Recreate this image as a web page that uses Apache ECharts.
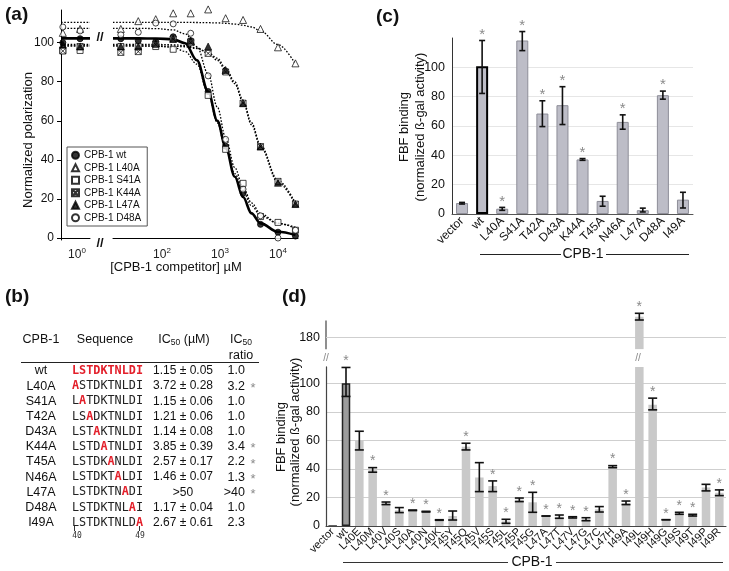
<!DOCTYPE html>
<html><head><meta charset="utf-8">
<script src="https://cdn.jsdelivr.net/npm/echarts@6/dist/echarts.min.js"></script>
<style>html,body{margin:0;padding:0;background:#fff}#c{width:729px;height:571px}</style>
</head><body><div id="c"></div>
<script>
// ---------------- Panel (a) data ----------------
const concA = [19.5, 39, 78, 156, 312.5, 625, 1250, 2500, 5000, 10000, 20000];
const concCtrl = [0.57, 1.13];
const namesA = ['CPB-1 wt', 'CPB-1 L40A', 'CPB-1 S41A', 'CPB-1 K44A', 'CPB-1 L47A', 'CPB-1 D48A'];
const ptsWt   = [102, 101, 100.5, 103, 101, 75, 47, 23, 7, 3, 1];
const ptsL40A = [107, 111, 112, 115, 115, 117, 112.5, 111.6, 107, 97.6, 89.4];
const ptsS41A = [98, 98, 98, 96.6, 100.5, 73, 45.4, 28, 11, 8, 4];
const ptsK44A = [95, 95.4, 99, 101.7, 100, 94.5, 85, 69, 46.8, 29, 17.4];
const ptsL47A = [98, 98, 99.7, 102, 101, 98, 86, 69, 46.8, 28.3, 17.4];
const ptsD48A = [104, 105.3, 110, 109.6, 104.8, 83, 50.5, 25, 11.4, 0, 4];
const ctrlWt = [100, 102], ctrlL40A = [105, 107], ctrlS41A = [96, 96];
const ctrlK44A = [95.7, 98], ctrlL47A = [99, 98], ctrlD48A = [108, 106];
const fitConc = [14.3, 39, 78, 156, 250, 400, 625, 900, 1250, 1800, 2500, 3500, 5000, 10000, 20000];
const fitWt   = [102.2, 102.2, 102.1, 101.7, 99.7, 91, 75, 60, 46.8, 31.4, 21, 12.6, 7.5, 3.2, 1.5];
const fitL40A = [110.4, 110.4, 110.4, 110.4, 110.4, 110.3, 110.2, 110.1, 109.9, 109.5, 108.9, 108, 106, 99, 89];
const fitS41A = [98.3, 98.3, 98.2, 97.6, 95.5, 89, 74, 59, 45.5, 33, 24, 16.5, 11.5, 7.5, 5];
const fitK44A = [99.1, 99.1, 99.1, 98.9, 98.5, 97.3, 94.6, 91, 86, 79, 69.5, 58, 46.5, 28.5, 17];
const fitL47A = [98.3, 98.3, 98.3, 98.2, 97.9, 97, 95, 92, 87, 80, 70.5, 59, 47.5, 29.5, 17.8];
const fitD48A = [107.3, 107.3, 107.2, 106.5, 104.5, 98, 84, 67, 51.5, 36, 26, 18, 12.5, 7.5, 5.5];
const yTicksA = [0, 20, 40, 60, 80, 100];

// ---------------- Panel (b) table data ----------------
const tblNames = ['wt', 'L40A', 'S41A', 'T42A', 'D43A', 'K44A', 'T45A', 'N46A', 'L47A', 'D48A', 'I49A'];
const tblSeq = ['LSTDKTNLDI', 'ASTDKTNLDI', 'LATDKTNLDI', 'LSADKTNLDI', 'LSTAKTNLDI', 'LSTDATNLDI',
                'LSTDKANLDI', 'LSTDKTALDI', 'LSTDKTNADI', 'LSTDKTNLAI', 'LSTDKTNLDA'];
const tblMut = [-1, 0, 1, 2, 3, 4, 5, 6, 7, 8, 9];
const tblIC50 = ['1.15 \u00b1 0.05', '3.72 \u00b1 0.28', '1.15 \u00b1 0.06', '1.21 \u00b1 0.06', '1.14 \u00b1 0.08',
                 '3.85 \u00b1 0.39', '2.57 \u00b1 0.17', '1.46 \u00b1 0.07', '>50', '1.17 \u00b1 0.04', '2.67 \u00b1 0.61'];
const tblRatio = ['1.0', '3.2', '1.0', '1.0', '1.0', '3.4', '2.2', '1.3', '>40', '1.0', '2.3'];
const tblStar = [0, 1, 0, 0, 0, 1, 1, 1, 1, 0, 0];

// ---------------- Panel (c) data ----------------
const catsC = ['vector', 'wt', 'L40A', 'S41A', 'T42A', 'D43A', 'K44A', 'T45A', 'N46A', 'L47A', 'D48A', 'I49A'];
const valC  = [7.5, 100.8, 3.6, 118.3, 68.5, 74.2, 37.2, 8.9, 62.8, 2.6, 81, 9.8];
const loC   = [6.8, 82.2, 2.5, 111.4, 59.6, 61, 36.6, 5.3, 57.8, 1.4, 78.3, 4.1];
const hiC   = [7.9, 118.3, 4.5, 124.4, 77.2, 86.8, 37.8, 12.1, 67.6, 4, 83.8, 14.8];
const starC = [0, 1, 1, 1, 1, 1, 1, 0, 1, 0, 1, 0];
const yTicksC = [0, 20, 40, 60, 80, 100];

// ---------------- Panel (d) data ----------------
const catsD = ['vector', 'wt', 'L40E', 'L40M', 'L40V', 'L40S', 'L40A', 'L40N', 'L40K', 'T45Y', 'T45Q', 'T45V',
               'T45S', 'T45L', 'T45P', 'T45G', 'L47A', 'L47T', 'L47V', 'L47G', 'L47C', 'L47H', 'I49A', 'I49L',
               'I49H', 'I49G', 'I49S', 'I49T', 'I49P', 'I49R'];
const valD = [0.5, 100, 60, 39.3, 16, 11, 11, 10, 4.2, 7, 55.6, 34, 28, 3.3, 18.5, 16.6, 7, 6.5, 6, 4.8, 11.7,
              41.5, 16, 194.7, 85, 4.4, 8.9, 7.6, 27, 23.3];
const loD  = [null, 90.8, 53.3, 37.7, 15, 9.4, 10.8, 9.8, 4, 4.2, 53.3, 24.1, 24.1, 1.9, 17.1, 9.6, 7, 5.4, 5.6,
              3.7, 9.8, 40.9, 15, 192.4, 81.4, 4.4, 8.2, 7, 24.6, 21.3];
const hiD  = [null, 111.1, 66.4, 40.9, 16.8, 12.9, 11.2, 10.3, 4.4, 10.5, 58, 44.4, 31.6, 4.7, 19.6, 23.6, 7, 7.7,
              6.5, 5.8, 13.6, 42.3, 17.5, 197.1, 89.6, 4.4, 9.6, 8.2, 29.2, 25.3];
const starD = [0, 1, 0, 1, 1, 0, 1, 1, 1, 0, 1, 0, 1, 1, 1, 1, 1, 1, 1, 1, 0, 1, 1, 1, 1, 1, 1, 1, 0, 1];
const yTicksD = [0, 20, 40, 60, 80, 100];
const yTicksDUpper = [180];

// ---------------- helpers ----------------
const FONT = '"Liberation Sans", Arial, sans-serif';
const MONO = '"DejaVu Sans Mono", monospace';
const RED = '#e3202b';
const LOWER_MAX = 111.5;
const PX_D = 1.427;            // px per unit in panel (d)
const UP_MIN = 172, UP_MAX = 200, UP_180_Y = 337.7;

function pow10Label(v) {
  const l = Math.log10(v), r = Math.round(l);
  if (Math.abs(l - r) > 1e-6) return '';
  return '{b|10}{s|' + r + '}';
}
const pair = (xs, ys) => xs.map((x, i) => [x, ys[i]]);

const symStyles = [
  {symbol: 'circle', size: 6, itemStyle: {color: '#000', borderColor: '#000', borderWidth: 1}},
  {symbol: 'triangle', size: 7, itemStyle: {color: '#fff', borderColor: '#000', borderWidth: 0.9}},
  {symbol: 'rect', size: 6, itemStyle: {color: '#fff', borderColor: '#000', borderWidth: 0.9}},
  {symbol: 'path://M0,0H10V10H0ZM0,0L10,10M10,0L0,10', size: 6, itemStyle: {color: '#fff', borderColor: '#000', borderWidth: 0.9}},
  {symbol: 'triangle', size: 7, itemStyle: {color: '#000', borderColor: '#000', borderWidth: 0.8}},
  {symbol: 'circle', size: 6, itemStyle: {color: '#fff', borderColor: '#000', borderWidth: 0.9}}
];
const ptsAll = [ptsWt, ptsL40A, ptsS41A, ptsK44A, ptsL47A, ptsD48A];
const ctrlAll = [ctrlWt, ctrlL40A, ctrlS41A, ctrlK44A, ctrlL47A, ctrlD48A];
const fitAll = [fitWt, fitL40A, fitS41A, fitK44A, fitL47A, fitD48A];

const series = [];
fitAll.forEach((f, k) => {
  const ls = k === 0 ? {color: '#000', width: 2.6, type: 'solid'} : {color: '#000', width: 1.3, type: [1.6, 1.6]};
  series.push({type: 'line', name: 'fit' + k, xAxisIndex: 1, yAxisIndex: 1, data: pair(fitConc, f),
    showSymbol: false, smooth: 0.35, smoothMonotone: 'x', lineStyle: ls, z: 2, silent: true, clip: false});
  series.push({type: 'line', name: 'fitc' + k, xAxisIndex: 0, yAxisIndex: 0, data: [[0.53, f[0]], [1.675, f[0]]],
    showSymbol: false, lineStyle: ls, z: 2, silent: true});
});
namesA.forEach((n, k) => {
  const s = symStyles[k];
  series.push({type: 'scatter', name: n, xAxisIndex: 1, yAxisIndex: 1, data: pair(concA, ptsAll[k]),
    symbol: s.symbol, symbolSize: s.size, itemStyle: s.itemStyle, z: 4, clip: false});
  series.push({type: 'scatter', name: n, xAxisIndex: 0, yAxisIndex: 0, data: pair(concCtrl, ctrlAll[k]),
    symbol: s.symbol, symbolSize: s.size, itemStyle: s.itemStyle, z: 4, clip: false});
});

function makeErr(xi, yi, lo, hi, star, keep, cap, starSize) {
  const data = [];
  lo.forEach((v, i) => { if (v != null && keep(i)) data.push([i, lo[i], hi[i], star[i]]); });
  return {
    type: 'custom', xAxisIndex: xi, yAxisIndex: yi, data: data, z: 6, silent: true,
    renderItem: function (p, api) {
      const i = api.value(0);
      const a = api.coord([i, api.value(1)]), b = api.coord([i, api.value(2)]);
      const x = a[0];
      const st = {stroke: '#111', lineWidth: 1.6};
      const ch = [
        {type: 'line', shape: {x1: x, y1: a[1], x2: x, y2: b[1]}, style: st},
        {type: 'line', shape: {x1: x - cap, y1: a[1], x2: x + cap, y2: a[1]}, style: st},
        {type: 'line', shape: {x1: x - cap, y1: b[1], x2: x + cap, y2: b[1]}, style: st}
      ];
      if (api.value(3)) ch.push({type: 'text', style: {text: '*', x: x, y: b[1] - 6, align: 'center',
        verticalAlign: 'middle', fill: '#8a8a8a', font: starSize + 'px ' + FONT}});
      return {type: 'group', children: ch};
    }
  };
}

series.push({type: 'bar', xAxisIndex: 2, yAxisIndex: 2, barWidth: 12, z: 3,
  data: valC.map((v, i) => catsC[i] === 'wt'
    ? {value: v, itemStyle: {color: '#bdbdc7', borderColor: '#000', borderWidth: 2}}
    : v),
  itemStyle: {color: '#bdbdc7', borderColor: '#8e8e98', borderWidth: 1}});
series.push(makeErr(2, 2, loC, hiC, starC, () => true, 3, 15));

const barItemD = (v, i) => catsD[i] === 'wt'
  ? {value: v, itemStyle: {color: '#9c9c9c', borderColor: '#222', borderWidth: 1.5}}
  : catsD[i] === 'vector' ? {value: v, itemStyle: {color: '#222'}} : v;
series.push({type: 'bar', xAxisIndex: 4, yAxisIndex: 4, barWidth: 8.5, z: 3, clip: true,
  data: valD.map(barItemD), itemStyle: {color: '#c9c9c9'}});
series.push({type: 'bar', xAxisIndex: 3, yAxisIndex: 3, barWidth: 8.5, z: 3, clip: true,
  data: valD.map((v, i) => v > LOWER_MAX ? barItemD(v, i) : '-'), itemStyle: {color: '#c9c9c9'}});
series.push(makeErr(4, 4, loD, hiD, starD, i => hiD[i] <= LOWER_MAX, 4.5, 14));
series.push(makeErr(3, 3, loD, hiD, starD, i => hiD[i] > LOWER_MAX, 4.5, 14));

// ---------------- graphics ----------------
const g = [];
const txt = (text, x, y, opt) => g.push(Object.assign({type: 'text', x: x, y: y, silent: true,
  style: Object.assign({text: text, font: '12px ' + FONT, fill: '#111', align: 'center', verticalAlign: 'middle'}, (opt && opt.style) || {})},
  (opt && opt.rotation != null) ? {rotation: opt.rotation} : {}));
const line = (x1, y1, x2, y2, color, w) => g.push({type: 'line', silent: true,
  shape: {x1: x1, y1: y1, x2: x2, y2: y2}, style: {stroke: color || '#111', lineWidth: w || 1}});

txt('(a)', 5, 15, {style: {font: 'bold 19px ' + FONT, align: 'left'}});
txt('(c)', 376, 17, {style: {font: 'bold 19px ' + FONT, align: 'left'}});
txt('(b)', 5, 297, {style: {font: 'bold 19px ' + FONT, align: 'left'}});
txt('(d)', 282, 297, {style: {font: 'bold 19px ' + FONT, align: 'left'}});

txt('Normalized polarization', 28, 140, {rotation: Math.PI / 2, style: {font: '13px ' + FONT}});
txt('[CPB-1 competitor] \u00b5M', 176, 267, {style: {font: '13px ' + FONT}});
txt('//', 100, 37, {style: {font: 'bold 13px ' + FONT}});
txt('//', 100, 243, {style: {font: 'bold 13px ' + FONT}});

// (b) table
const colName = 41, colSeq = 72, colIC = 183, colRatio = 245, rowY0 = 371, rowH = 15.16;
const subRich = {a: {fontSize: 12.5, fontFamily: FONT, fill: '#111'}, s: {fontSize: 8.5, fontFamily: FONT, fill: '#111', padding: [5, 0, 0, 0]}};
txt('CPB-1', colName, 340, {style: {font: '12.5px ' + FONT}});
txt('Sequence', 105, 340, {style: {font: '12.5px ' + FONT}});
txt('{a|IC}{s|50}{a| (\u00b5M)}', 184, 340, {style: {rich: subRich}});
txt('{a|IC}{s|50}', 241, 340, {style: {rich: subRich}});
txt('ratio', 241, 356, {style: {font: '12.5px ' + FONT}});
line(21, 362.5, 259, 362.5, '#222', 1);
tblNames.forEach((n, i) => {
  const y = rowY0 + i * rowH;
  txt(n, colName, y, {style: {font: '12.5px ' + FONT}});
  let s = '';
  for (let k = 0; k < tblSeq[i].length; k++) {
    const ch = tblSeq[i][k];
    s += (tblMut[i] === -1 || tblMut[i] === k) ? '{r|' + ch + '}' : '{n|' + ch + '}';
  }
  txt(s, colSeq, y, {style: {align: 'left', rich: {
    n: {fontFamily: MONO, fontSize: 11.8, fill: '#222'},
    r: {fontFamily: MONO, fontSize: 11.8, fontWeight: 'bold', fill: RED}}}});
  txt(tblIC50[i], colIC, y, {style: {font: '12px ' + FONT}});
  txt(tblRatio[i], colRatio, y, {style: {font: '12.5px ' + FONT, align: 'right'}});
  if (tblStar[i]) txt('*', 253, y + 2, {style: {font: '13px ' + FONT, fill: '#8a8a8a'}});
});
line(74.5, 526, 74.5, 531, '#333', 1);
line(139.5, 526, 139.5, 531, '#333', 1);
txt('40', 77, 536, {style: {font: '8px ' + MONO, fill: '#333'}});
txt('49', 140, 536, {style: {font: '8px ' + MONO, fill: '#333'}});

// (c) titles
txt('FBF binding', 404, 127, {rotation: Math.PI / 2, style: {font: '13px ' + FONT}});
txt('(normalized \u00df-gal activity)', 420, 127, {rotation: Math.PI / 2, style: {font: '13px ' + FONT}});
line(480, 254.5, 561, 254.5, '#222', 1.2);
line(606, 254.5, 689, 254.5, '#222', 1.2);
txt('CPB-1', 583, 254, {style: {font: '14px ' + FONT}});

// (d) titles
txt('FBF binding', 281, 437, {rotation: Math.PI / 2, style: {font: '13px ' + FONT}});
txt('(normalized \u00df-gal activity)', 295, 432, {rotation: Math.PI / 2, style: {font: '13px ' + FONT}});
line(343, 562.5, 508, 562.5, '#333', 1.2);
line(556, 562.5, 723, 562.5, '#333', 1.2);
txt('CPB-1', 532, 562, {style: {font: '14px ' + FONT}});
txt('//', 326, 358, {style: {font: '10px ' + FONT, fill: '#888'}});
txt('//', 638, 358, {style: {font: '10px ' + FONT, fill: '#888'}});
line(326, 320.6, 326, 349.2, '#444', 1.2);

// ---------------- option ----------------
const axisLbl = {fontFamily: FONT, color: '#111'};
const supRich = {b: {fontSize: 12, lineHeight: 16, fontFamily: FONT, color: '#222'}, s: {fontSize: 8, lineHeight: 9, verticalAlign: 'top', fontFamily: FONT, color: '#222'}};
const upTop = UP_180_Y - (UP_MAX - 180) * PX_D;
const option = {
  animation: false,
  backgroundColor: '#fff',
  textStyle: {fontFamily: FONT},
  legend: {
    data: namesA.map(n => ({name: n})),
    orient: 'vertical', left: 67, top: 147, itemWidth: 7, itemHeight: 7, itemGap: 2,
    padding: [3, 6, 3, 4], borderColor: '#555', borderWidth: 1, selectedMode: false,
    textStyle: {fontSize: 10, lineHeight: 10.5, fontFamily: FONT, color: '#111'}
  },
  grid: [
    {left: 61, top: 10, width: 29, height: 230},
    {left: 113, top: 10, width: 185, height: 230},
    {left: 452, top: 38, width: 241, height: 176},
    {left: 326, top: upTop, width: 400, height: (UP_MAX - UP_MIN) * PX_D},
    {left: 326, top: 526 - LOWER_MAX * PX_D, width: 400, height: LOWER_MAX * PX_D}
  ],
  xAxis: [
    {gridIndex: 0, type: 'log', logBase: 10, min: 0.53, max: 1.675,
      axisLine: {lineStyle: {color: '#000', width: 1}}, axisTick: {show: false}, splitLine: {show: false},
      axisLabel: Object.assign({formatter: pow10Label, margin: 7, rich: supRich}, axisLbl)},
    {gridIndex: 1, type: 'log', logBase: 10, min: 14.3, max: 22130,
      axisLine: {lineStyle: {color: '#000', width: 1}}, axisTick: {show: false}, splitLine: {show: false}, minorTick: {show: false},
      axisLabel: Object.assign({formatter: pow10Label, margin: 7, showMinLabel: false, showMaxLabel: false, rich: supRich}, axisLbl)},
    {gridIndex: 2, type: 'category', data: catsC,
      axisLine: {lineStyle: {color: '#555'}}, axisTick: {show: false},
      axisLabel: Object.assign({interval: 0, rotate: 45, fontSize: 12, margin: 5}, axisLbl)},
    {gridIndex: 3, type: 'category', data: catsD, show: false},
    {gridIndex: 4, type: 'category', data: catsD,
      axisLine: {lineStyle: {color: '#444'}}, axisTick: {show: false},
      axisLabel: Object.assign({interval: 0, rotate: 45, fontSize: 11, margin: 4}, axisLbl)}
  ],
  yAxis: [
    {gridIndex: 0, type: 'value', min: -1, max: 116.7,
      axisLine: {show: true, lineStyle: {color: '#000'}}, axisTick: {show: true, length: 4, lineStyle: {color: '#000'}},
      splitLine: {show: false},
      axisLabel: Object.assign({fontSize: 12, margin: 7, showMinLabel: false, showMaxLabel: false,
        formatter: v => yTicksA.includes(v) ? String(v) : ''}, axisLbl)},
    {gridIndex: 1, type: 'value', min: -1, max: 116.7, show: false, splitLine: {show: false}},
    {gridIndex: 2, type: 'value', min: 0, max: 120, interval: 20,
      axisLine: {show: true, lineStyle: {color: '#333'}}, axisTick: {show: false},
      splitLine: {show: true, showMaxLine: false, showMinLine: false, lineStyle: {color: '#e6e6e6'}},
      axisLabel: Object.assign({fontSize: 12.5, margin: 7, formatter: v => yTicksC.includes(v) ? String(v) : ''}, axisLbl)},
    {gridIndex: 3, type: 'value', min: UP_MIN, max: UP_MAX, splitNumber: 1, startValue: UP_MIN,
      axisLine: {show: false}, axisTick: {show: false},
      splitLine: {show: true, showMaxLine: false, showMinLine: false, lineStyle: {color: '#cfcfcf'}},
      axisLabel: Object.assign({fontSize: 12.5, margin: 6, showMinLabel: false, showMaxLabel: false,
        formatter: v => yTicksDUpper.includes(v) ? String(v) : ''}, axisLbl)},
    {gridIndex: 4, type: 'value', min: 0, max: LOWER_MAX, interval: 20,
      axisLine: {show: true, lineStyle: {color: '#444', width: 1.2}}, axisTick: {show: false},
      splitLine: {show: true, showMaxLine: false, showMinLine: false, lineStyle: {color: '#cfcfcf'}},
      axisLabel: Object.assign({fontSize: 12.5, margin: 6, showMaxLabel: false,
        formatter: v => yTicksD.includes(v) ? String(v) : ''}, axisLbl)}
  ],
  graphic: g,
  series: series
};
const chart = echarts.init(document.getElementById('c'), null, {renderer: 'canvas'});
chart.setOption(option);
</script>
</body></html>
